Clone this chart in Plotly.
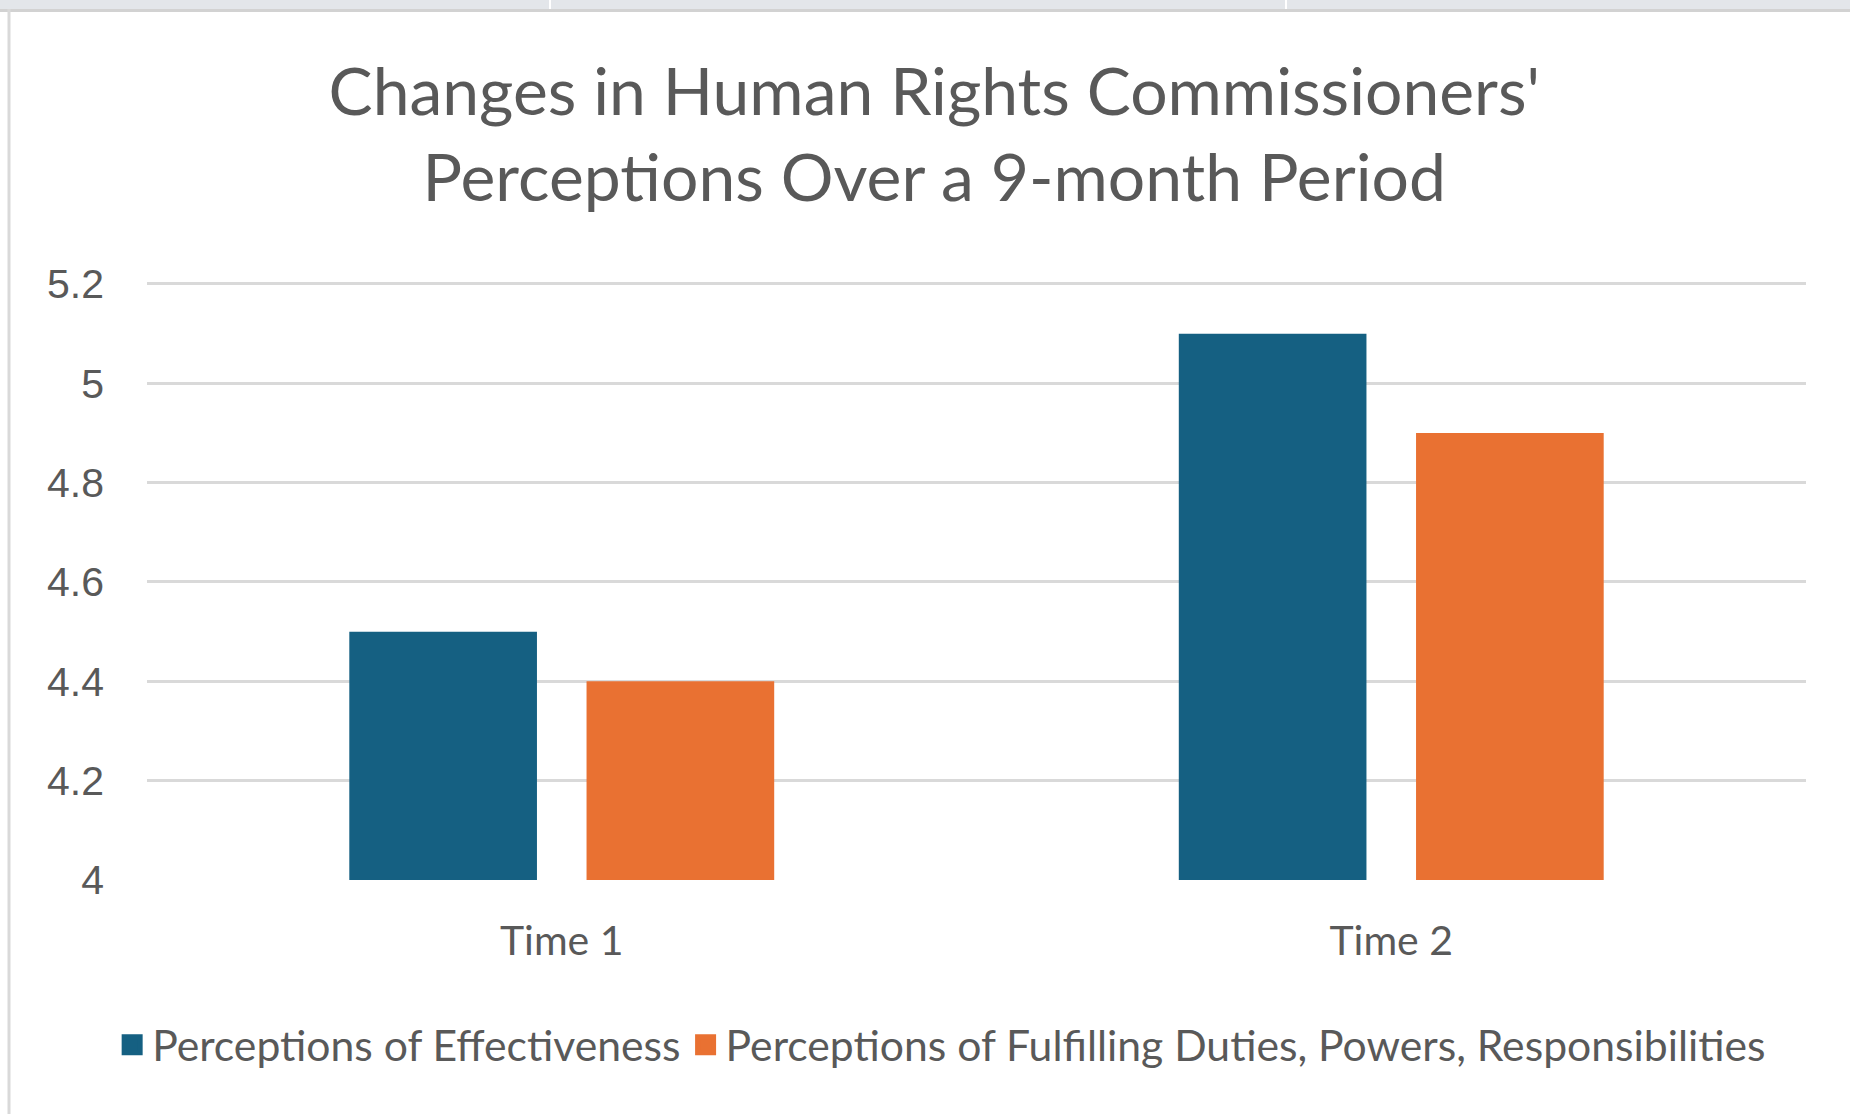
import plotly.graph_objects as go

categories = ["Time 1", "Time 2"]
series_names = ["Perceptions of Effectiveness",
                "Perceptions of Fulfilling Duties, Powers, Responsibilities"]
effectiveness = [4.5, 5.1]
fulfilling = [4.4, 4.9]
y_ticks = [4, 4.2, 4.4, 4.6, 4.8, 5, 5.2]
y_tick_labels = ["4", "4.2", "4.4", "4.6", "4.8", "5", "5.2"]
colors = ["#156082", "#E97132"]

W, H = 1850, 1114
L, R, T, B = 147, 44, 279, 234
Y_RANGE = [4, 5.21]
PW, PH = W - L - R, H - T - B

def px(x):
    return (x - L) / PW

def py(y):
    return (H - B - y) / PH

TXT = "#595959"
FONT = "Lato"

fig = go.Figure()
for name, vals, col in zip(series_names, [effectiveness, fulfilling], colors):
    fig.add_trace(go.Bar(x=categories, y=vals, name=name, showlegend=False,
                         marker=dict(color=col, line=dict(width=0))))
# legend entries with larger square keys
for name, col in zip(series_names, colors):
    fig.add_trace(go.Scatter(x=[None], y=[None], mode="markers", name=name,
                             marker=dict(symbol="square", size=16, color=col,
                                         line=dict(color=col, width=8))))

shapes = [
    dict(type="rect", xref="paper", yref="paper", x0=px(0), x1=px(W), y0=py(0), y1=py(9),
         fillcolor="#e3e6ea", line=dict(width=0), layer="above"),
    dict(type="line", xref="paper", yref="paper", x0=px(0), x1=px(W), y0=py(10.5), y1=py(10.5),
         line=dict(color="#d2d2d2", width=3)),
    dict(type="line", xref="paper", yref="paper", x0=px(9), x1=px(9), y0=py(9), y1=py(H),
         line=dict(color="#d9d9d9", width=3)),
    dict(type="line", xref="paper", yref="paper", x0=px(550), x1=px(550), y0=py(0), y1=py(9),
         line=dict(color="#ffffff", width=2)),
    dict(type="line", xref="paper", yref="paper", x0=px(1286), x1=px(1286), y0=py(0), y1=py(9),
         line=dict(color="#ffffff", width=2)),
]

fig.update_layout(
    width=W, height=H,
    margin=dict(l=L, r=R, t=T, b=B, pad=0),
    paper_bgcolor="white", plot_bgcolor="white",
    barmode="group", bargap=0.428, bargroupgap=0.209,
    title=dict(text="Changes in Human Rights Commissioners'<br>Perceptions Over a 9-month Period",
               x=0.505, xanchor="center", xref="container",
               y=1 - 115 / H, yanchor="middle", yref="container",
               font=dict(family=FONT, size=66, color=TXT)),
    font=dict(family=FONT, color=TXT),
    xaxis=dict(showgrid=False, showline=False, ticks="", tickfont=dict(size=41, color=TXT, family=FONT),
               ticklabelstandoff=33),
    yaxis=dict(range=Y_RANGE, tickvals=y_ticks, ticktext=y_tick_labels,
               showgrid=True, gridcolor="#d9d9d9", gridwidth=3, zeroline=False, showline=False,
               ticks="", tickfont=dict(size=41, color=TXT, family="Liberation Sans"),
               ticklabelstandoff=42),
    legend=dict(orientation="h", x=0.509, xanchor="center", xref="container",
                y=1 - 1045 / H, yanchor="middle", yref="container",
                font=dict(size=42.7, color=TXT, family=FONT),
                traceorder="normal", itemwidth=30),
    shapes=shapes,
)
fig.write_html("out.html", config={"displayModeBar": False},
               post_script="document.body.style.margin='0';")
